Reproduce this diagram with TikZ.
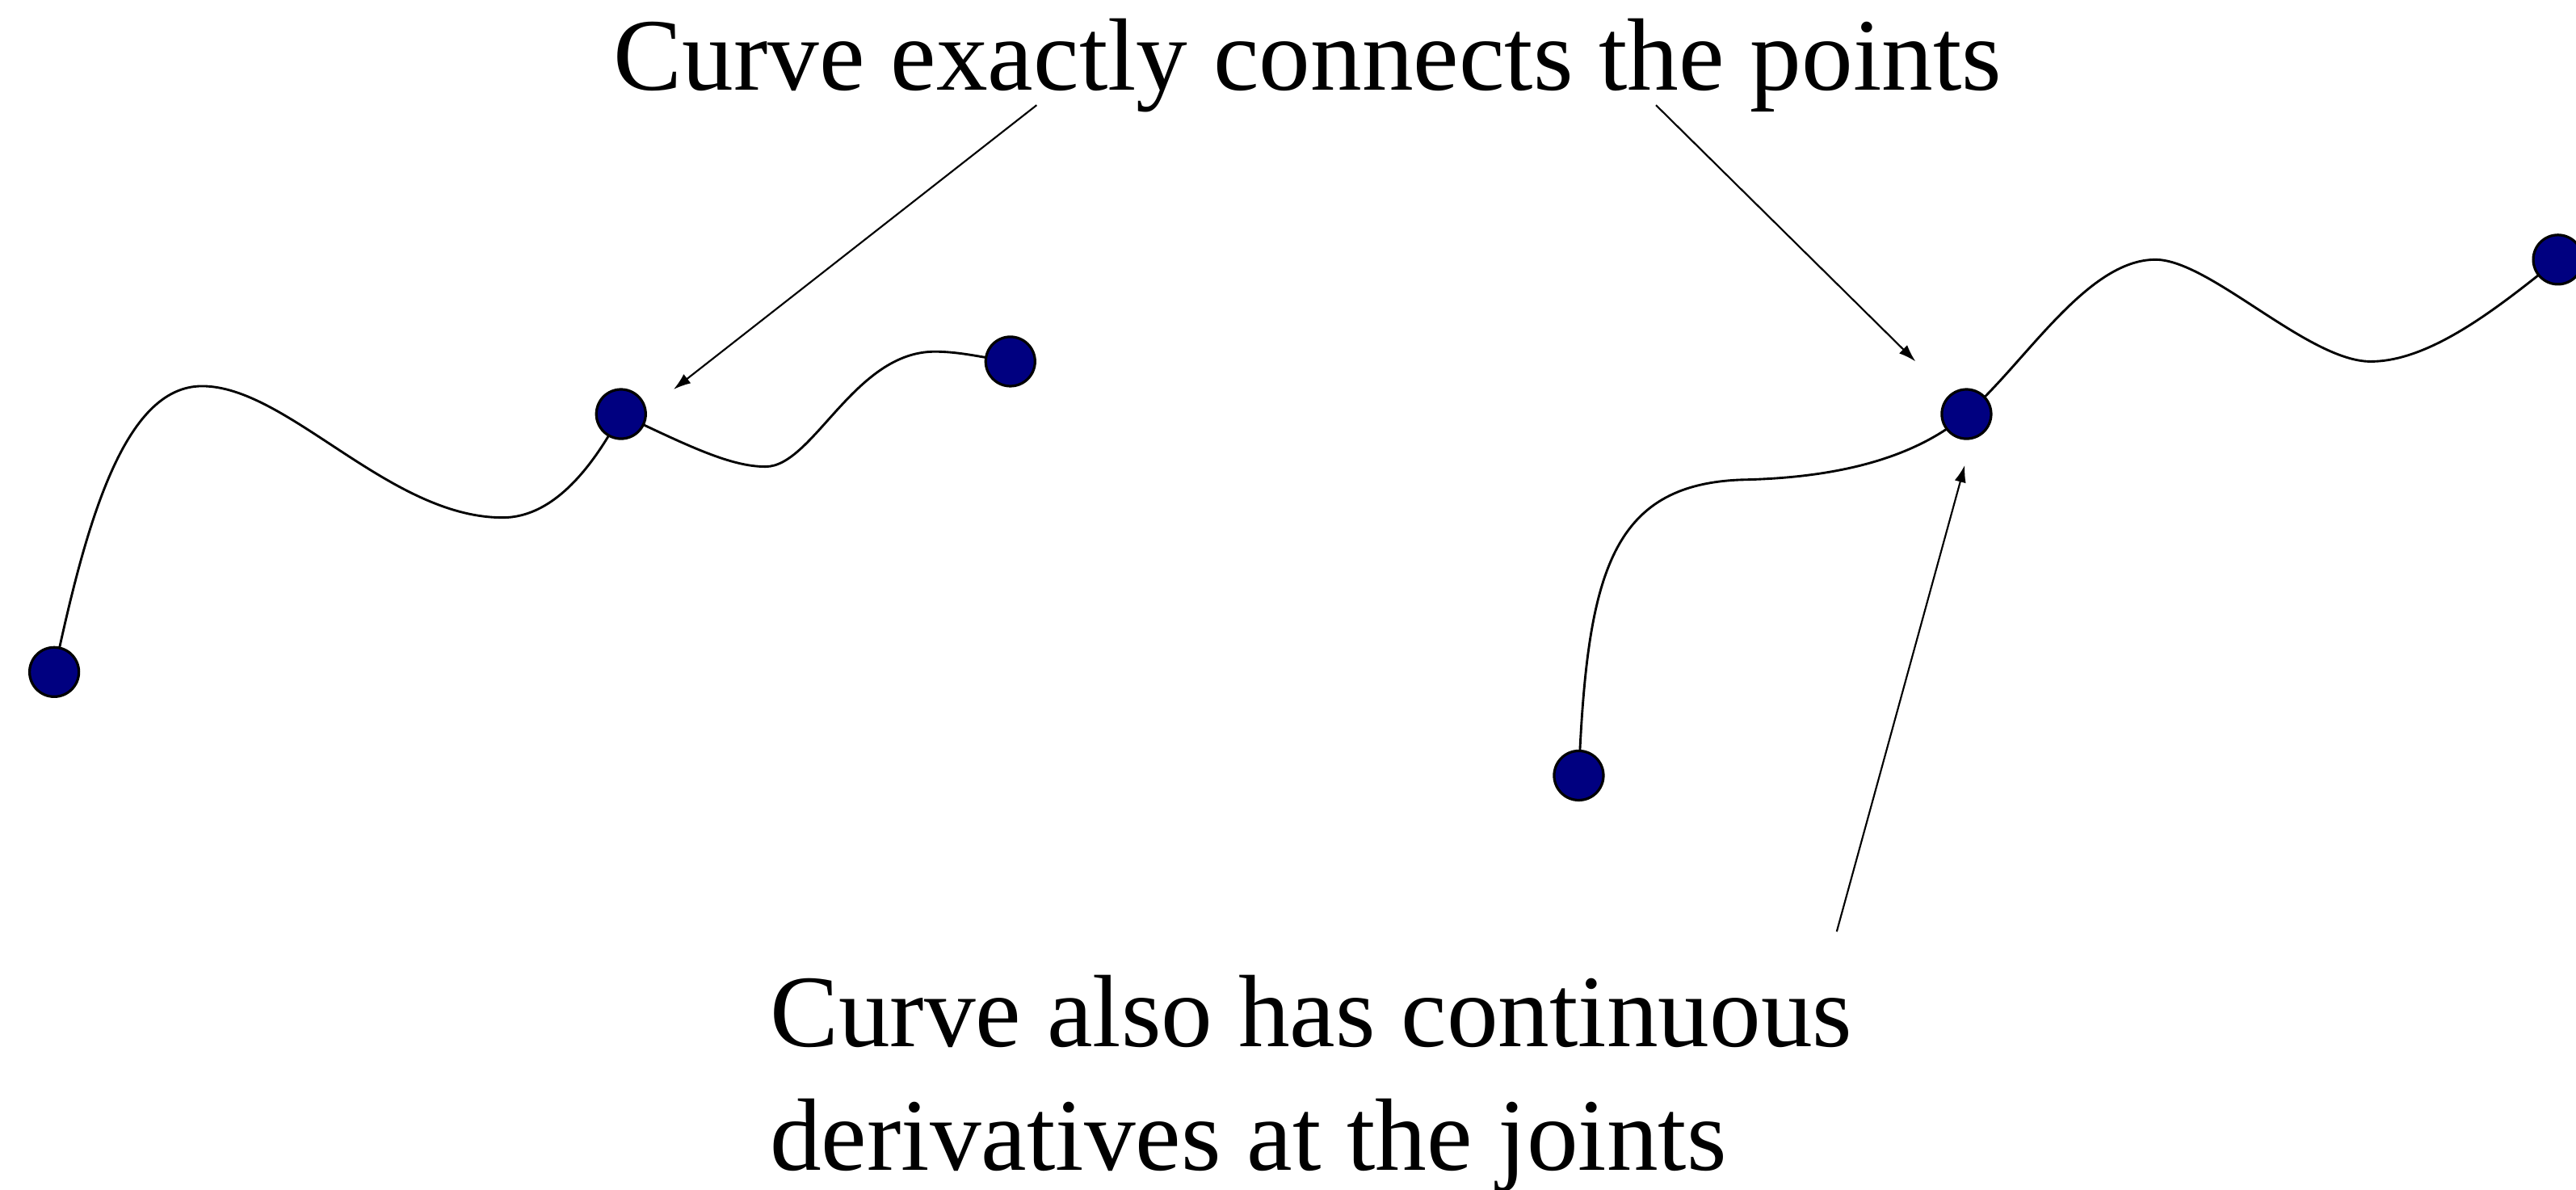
\documentclass[tikz,border=0pt]{standalone}
\usepackage{fontspec}
\setmainfont{Liberation Serif}
\usetikzlibrary{arrows.meta}
\definecolor{dotblue}{RGB}{0,0,128}
\tikzset{
  dotnode/.style={circle, draw=black, line width=0.45pt, fill=dotblue, minimum size=0.3cm, inner sep=0pt},
  splinecurve/.style={line width=0.4pt, black},
  pointer/.style={line width=0.3pt, -{Latex[length=3pt,width=2pt]}},
  caption/.style={font=\fontsize{17.8}{21.3}\selectfont, inner sep=0pt}
}
\begin{document}
\begin{tikzpicture}[x=0.01cm, y=-0.01cm]
\useasboundingbox (0,0) rectangle (1568,724);
\clip (0,0) rectangle (1568,724);
% dots (positions)
\coordinate (pA) at (33,409);
\coordinate (pB) at (378,252);
\coordinate (pC) at (615,220);
\coordinate (pD) at (961,472);
\coordinate (pE) at (1197,252);
\coordinate (pF) at (1557,158);
% left curve (kink at the middle joint)
\draw[splinecurve] (pA) .. controls (52,320) and (75,235) .. (123,235)
  .. controls (175,235) and (237,315) .. (306,315)
  .. controls (338,315) and (362,282) .. (pB);
\draw[splinecurve] (pB) .. controls (420,272) and (445,284) .. (466,284)
  .. controls (495,284) and (520,214) .. (569,214)
  .. controls (585,214) and (600,218) .. (pC);
% right curve (smooth at the joint)
\draw[splinecurve] (pD) .. controls (966,350) and (980,295) .. (1060,292)
  .. controls (1110,291) and (1162,282) .. (pE);
\draw[splinecurve] (pE) .. controls (1232,222) and (1270,158) .. (1312,158)
  .. controls (1345,158) and (1405,220) .. (1443,220)
  .. controls (1480,220) and (1522,186) .. (pF);
% dots
\node[dotnode] (A) at (pA) {};
\node[dotnode] (B) at (pB) {};
\node[dotnode] (C) at (pC) {};
\node[dotnode] (D) at (pD) {};
\node[dotnode] (E) at (pE) {};
\node[dotnode] (F) at (pF) {};
% captions
\node[caption, anchor=base] (top) at (796,55) {Curve exactly connects the points};
\node[caption, anchor=base west, align=left] (bottom) at (468,712) {Curve also has continuous\\derivatives at the joints};
% pointer coordinates
\coordinate (s1) at (631,64);
\coordinate (t1) at (410,237);
\coordinate (s2) at (1008,64);
\coordinate (t2) at (1166,220);
\coordinate (s3) at (1118,567);
\coordinate (t3) at (1196,283);
\draw[pointer] (s1) -- (t1);
\draw[pointer] (s2) -- (t2);
\draw[pointer] (s3) -- (t3);
\end{tikzpicture}
\end{document}
